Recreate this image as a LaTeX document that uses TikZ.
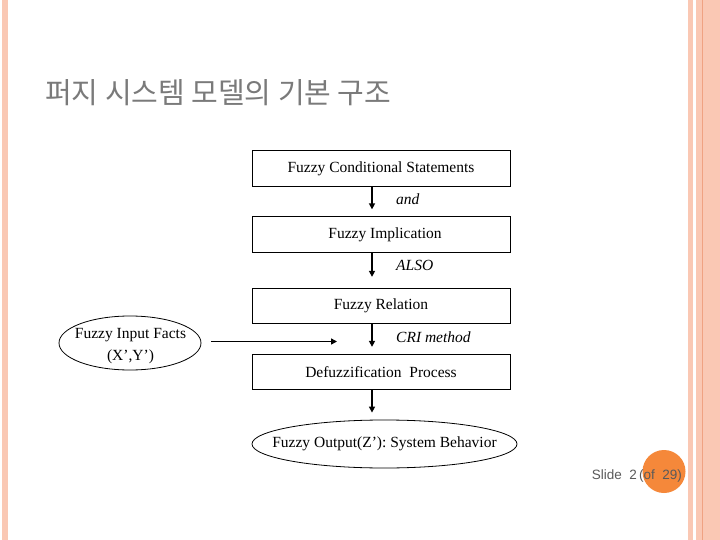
\documentclass[tikz,border=0pt]{standalone}
\usepackage{fontspec}
\setmainfont{Liberation Serif}
\newfontfamily\kofont{Noto Sans CJK KR}
\newfontfamily\slidefont{Liberation Sans}
\usetikzlibrary{shapes.geometric,arrows.meta}
\definecolor{peach}{HTML}{FAC8B4}
\definecolor{peachdark}{HTML}{F0A282}
\definecolor{dotorange}{HTML}{F5883A}
\definecolor{titlegray}{HTML}{7A7A7A}
\definecolor{numgray}{HTML}{5A5A5A}
\tikzset{
  flowbox/.style={draw=black, line width=0.8pt, minimum width=258pt, minimum height=35.5pt, inner sep=0pt, font=\fontsize{15.5}{20}\selectfont},
  oval/.style={draw=black, line width=0.8pt, ellipse, inner xsep=-30pt, inner ysep=-8pt, align=center, font=\fontsize{15.5}{21}\selectfont},
  plaintext/.style={inner sep=0pt, align=center, font=\fontsize{15.5}{22}\selectfont},
  flowarrow/.style={line width=1.8pt, -{Triangle[length=6pt,width=6pt]}},
  lbl/.style={font=\itshape\fontsize{15.5}{18}\selectfont, anchor=west, inner sep=0pt},
}
\begin{document}
\begin{tikzpicture}[x=1pt,y=-1pt]
\useasboundingbox (0,0) rectangle (720,540);
\fill[white] (0,0) rectangle (720,540);
% side stripes
\fill[peach] (2,0) rectangle (8,540);
\fill[peach] (688,0) rectangle (692.5,540);
\fill[peach] (696,0) rectangle (720,540);
\fill[peachdark] (701.5,0) rectangle (703,540);
% title
\node[anchor=base west, text=titlegray, inner sep=0pt, font=\kofont\fontsize{29}{32}\selectfont] (title) at (45,104) {퍼지 시스템 모델의 기본 구조};
% boxes
\node[flowbox] (b1) at (381,168.5) {Fuzzy Conditional Statements};
\node[flowbox] (b2) at (381,234.5) {\hspace{8pt}Fuzzy Implication};
\node[flowbox] (b3) at (381,306) {Fuzzy Relation};
\node[flowbox] (b4) at (381,372) {Defuzzification~~Process};
\node[oval, minimum width=265pt, minimum height=48pt] (out) at (384.5,444) {Fuzzy Output(Z’): System Behavior};
\node[oval, minimum width=142pt, minimum height=54pt] (in) at (130,343) {};
\node[plaintext] (intext) at (130.5,346) {Fuzzy Input Facts\\(X’,Y’)};
% arrow axis
\coordinate (ax) at (372,0);
\coordinate (hx) at (337,341.5);
\draw[flowarrow, shorten >=7pt] (b1.south -| ax) -- (b2.north -| ax);
\draw[flowarrow, shorten >=11pt] (b2.south -| ax) -- (b3.north -| ax);
\draw[flowarrow, shorten >=7pt] (b3.south -| ax) -- (b4.north -| ax);
\draw[flowarrow, shorten >=7pt] (b4.south -| ax) -- (out.north -| ax);
\draw[flowarrow, shorten <=10pt] (in.east |- hx) -- (hx);
% labels
\node[lbl] (l1) at (396,199) {and};
\node[lbl] (l2) at (396,265.5) {ALSO};
\node[lbl] (l3) at (396,337) {CRI method};
% slide number
\fill[dotorange] (664,471.5) circle (21.5pt);
\node[anchor=base east, text=numgray, inner sep=0pt, font=\slidefont\fontsize{13.5}{16}\selectfont] (num) at (682,479) {Slide~~2\,(of~~29)};
\end{tikzpicture}
\end{document}
